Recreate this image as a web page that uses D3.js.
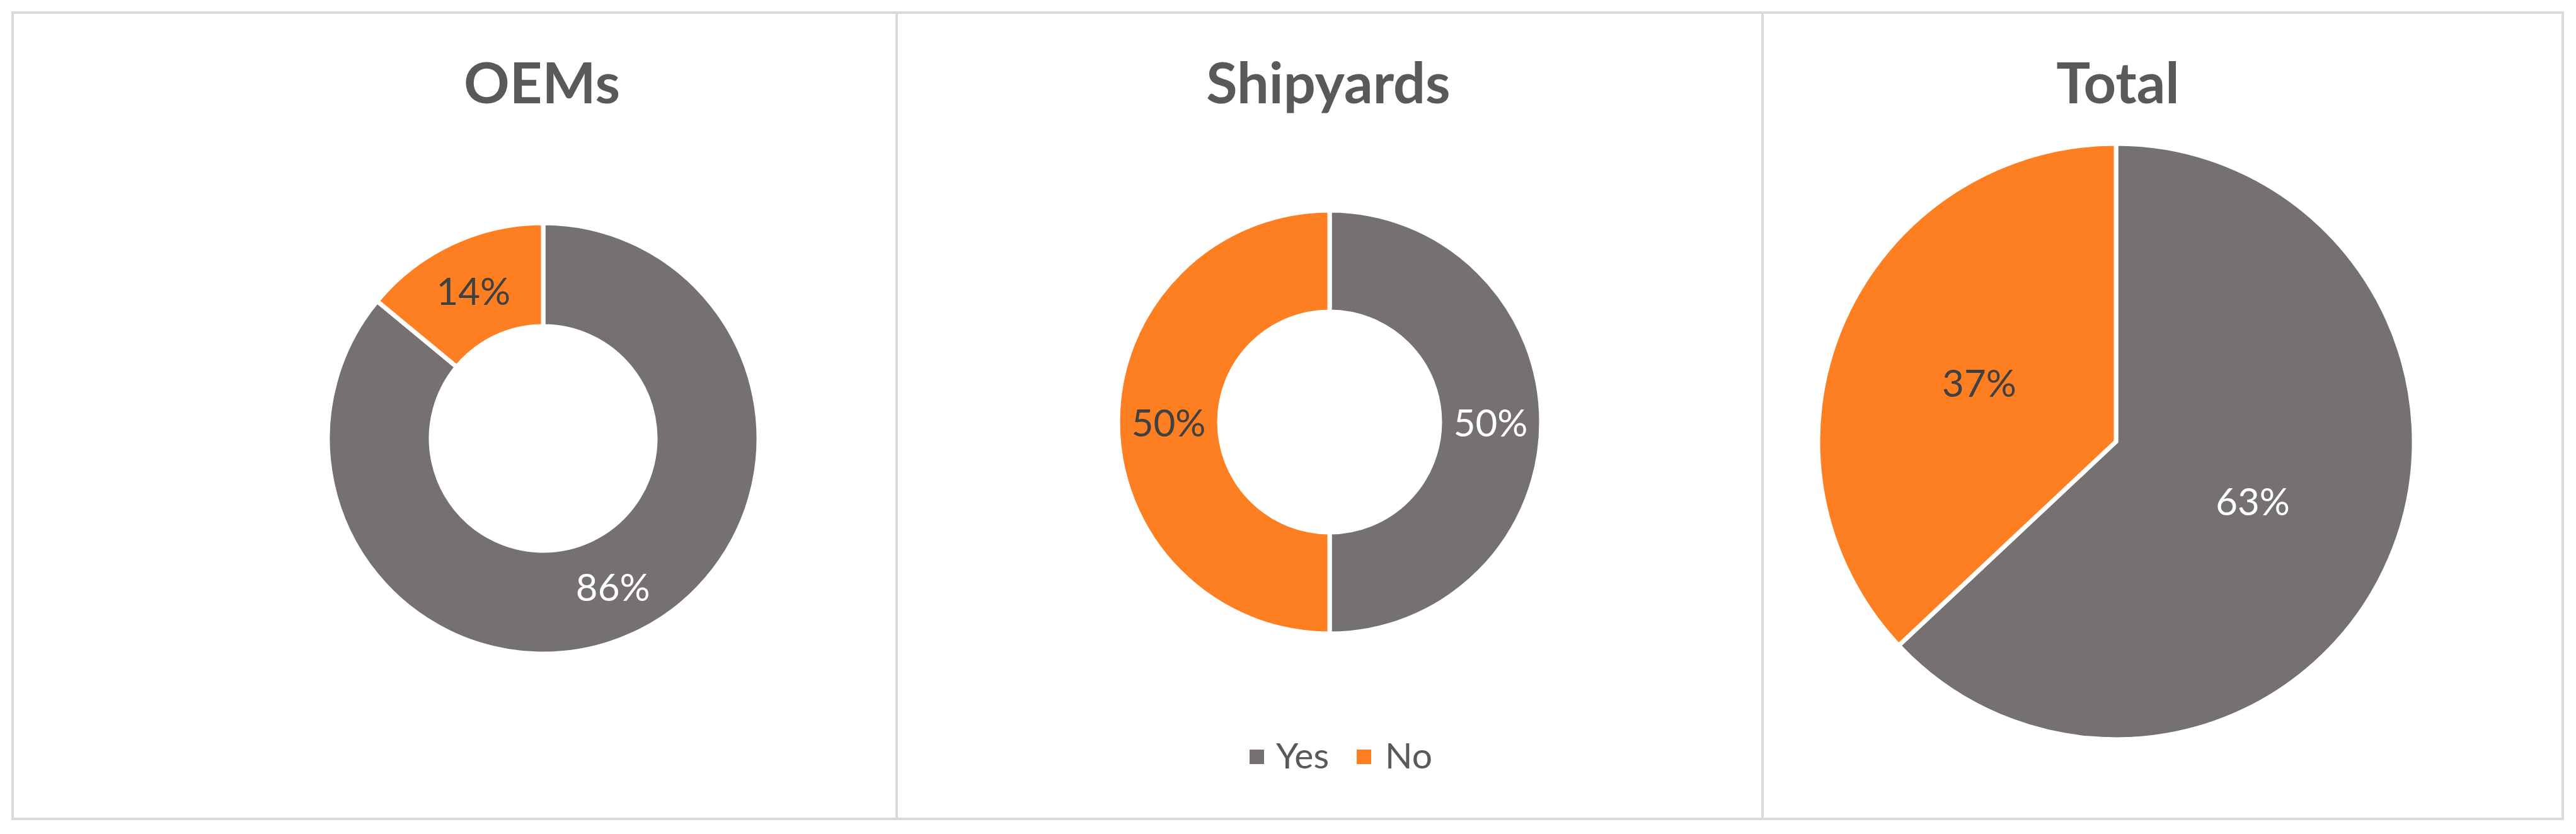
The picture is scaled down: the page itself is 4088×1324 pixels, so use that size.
<!DOCTYPE html>
<html>
<head>
<meta charset="utf-8">
<script src="https://cdn.jsdelivr.net/npm/d3@7"></script>
<style>
  html, body { margin: 0; padding: 0; background: #ffffff; }
  svg { display: block; }
</style>
</head>
<body>
<svg id="chart" width="4088" height="1324"></svg>
<script>
// ---- data ----
const categories = ["Yes", "No"];
const panelTitles = ["OEMs", "Shipyards", "Total"];
const oemsValues = [86, 14];
const shipyardsValues = [50, 50];
const totalValues = [63, 37];
const colors = ["#767171", "#FE7F22"];
const labelColors = ["#ffffff", "#404040"];

(function () {
const svg = d3.select("#chart");
const FONT = "Lato, 'Open Sans', sans-serif";

// panel layout
const panels = [
  { title: panelTitles[0], values: oemsValues, x0: 20, x1: 1423, cx: 862, cy: 696, r: 342, inner: 178, legend: false },
  { title: panelTitles[1], values: shipyardsValues, x0: 1423, x1: 2797, cx: 2110, cy: 670, r: 336, inner: 175, legend: true },
  { title: panelTitles[2], values: totalValues, x0: 2797, x1: 4067, cx: 3358, cy: 701, r: 473, inner: 0, legend: false }
];
const titleX = [860, 2108, 3361];
const frameTop = 20, frameBottom = 1300;

const pie = d3.pie().sort(null).value(d => d);

panels.forEach((p, i) => {
  svg.append("rect")
    .attr("x", p.x0).attr("y", frameTop)
    .attr("width", p.x1 - p.x0).attr("height", frameBottom - frameTop)
    .attr("fill", "none").attr("stroke", "#d9d9d9").attr("stroke-width", 4);

  svg.append("text")
    .attr("x", titleX[i]).attr("y", 164)
    .attr("text-anchor", "middle")
    .attr("font-family", FONT).attr("font-weight", 700)
    .attr("font-size", 90).attr("fill", "#595959")
    .text(p.title);

  const arcs = pie(p.values);
  const arc = d3.arc().innerRadius(p.inner).outerRadius(p.r);
  const g = svg.append("g").attr("transform", `translate(${p.cx},${p.cy})`);
  g.selectAll("path").data(arcs).join("path")
    .attr("d", arc)
    .attr("fill", (d, j) => colors[j])
    .attr("stroke", "#ffffff").attr("stroke-width", 7)
    .attr("stroke-linejoin", "miter");

  g.selectAll("text").data(arcs).join("text")
    .attr("transform", d => `translate(${arc.centroid(d)})`)
    .attr("text-anchor", "middle")
    .attr("dominant-baseline", "central")
    .attr("font-family", FONT).attr("font-size", 60)
    .attr("fill", (d, j) => labelColors[j])
    .text(d => Math.round(d.data) + "%");

  if (p.legend) {
    const items = [
      { name: categories[0], sx: 1983, tx: 2025 },
      { name: categories[1], sx: 2153, tx: 2198 }
    ];
    items.forEach((it, j) => {
      svg.append("rect").attr("x", it.sx).attr("y", 1190)
        .attr("width", 23).attr("height", 23).attr("fill", colors[j]);
      svg.append("text").attr("x", it.tx).attr("y", 1220)
        .attr("font-family", FONT).attr("font-size", 57)
        .attr("fill", "#595959").text(it.name);
    });
  }
});
})();
</script>
</body>
</html>
